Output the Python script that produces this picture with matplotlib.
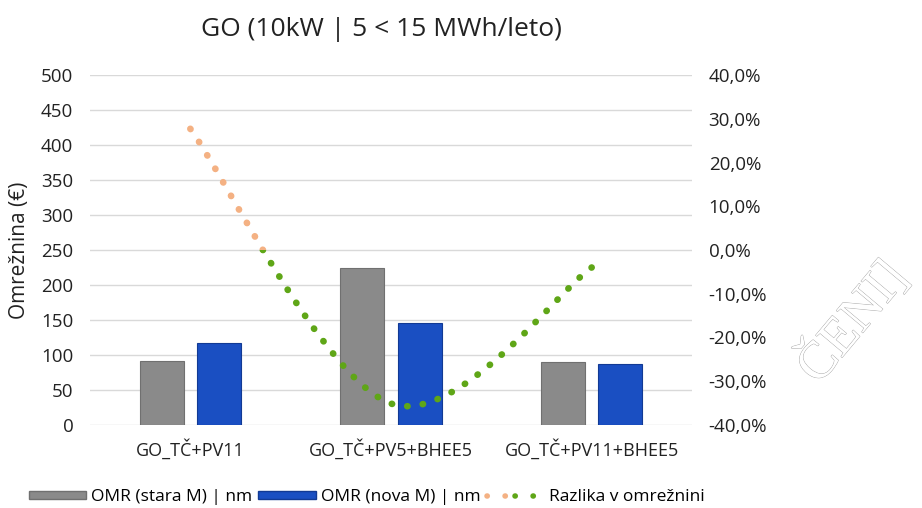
import matplotlib
matplotlib.use('Agg')
import matplotlib.pyplot as plt
import matplotlib.patheffects as pe
from matplotlib.path import Path
from matplotlib.patches import PathPatch, Rectangle, Patch
from matplotlib.lines import Line2D
from matplotlib.legend_handler import HandlerTuple
import numpy as np

plt.rcParams['font.family'] = ['Open Sans', 'DejaVu Sans']

# podatki
categories = ['GO_TČ+PV11', 'GO_TČ+PV5+BHEE5', 'GO_TČ+PV11+BHEE5']
omr_stara = [91.4, 223.8, 89.5]
omr_nova = [116.7, 145.2, 87.1]
razlika = [27.7, -35.1, -4.0]  # %

grey = '#8a8a8a'
blue = '#1a4fc2'
orange = '#f4b183'
green = '#5fa617'
dots = (0, (0.05, 2.3))

fig = plt.figure(figsize=(9.22, 5.08), dpi=100)
ax = fig.add_axes([90 / 922, 1 - 425 / 508, 602 / 922, 350 / 508])
ax2 = ax.twinx()

x = np.arange(len(categories))
w = 0.22
ax.bar(x - 0.143, omr_stara, w, color=grey, edgecolor='#707070', linewidth=0.8, zorder=2)
ax.bar(x + 0.143, omr_nova, w, color=blue, edgecolor='#123a94', linewidth=0.8, zorder=2)

ax.set_xlim(-0.5, 2.5)
ax.set_ylim(0, 500)
ax.set_yticks(range(0, 501, 50))
ax.set_xticks(x)
ax.set_xticklabels(categories, fontsize=13, color='#222222')
ax.tick_params(axis='y', labelsize=13.5, colors='#222222', length=0, pad=12)
ax.tick_params(axis='x', length=0, pad=10)
ax.grid(axis='y', color='#d9d9d9', linewidth=1, zorder=0)
ax.set_axisbelow(True)
ax.set_ylabel('Omrežnina (€)', fontsize=15, color='#222222', labelpad=8)
for s in ax.spines.values():
    s.set_visible(False)
for s in ax2.spines.values():
    s.set_visible(False)

ax2.set_ylim(-40, 40)
ax2.set_yticks(range(-40, 41, 10))
ax2.set_yticklabels(['{:.1f}%'.format(v).replace('.', ',') for v in range(-40, 41, 10)])
ax2.tick_params(axis='y', labelsize=13.5, colors='#222222', length=0, pad=12)

# zglajena crta (Excel smooth) - bezier iz tock
pts = np.column_stack([x, razlika]).astype(float)
ext = np.vstack([pts[0], pts, pts[-1]])
verts = [tuple(pts[0])]
codes = [Path.MOVETO]
for i in range(len(pts) - 1):
    p0, p1, p2, p3 = ext[i], ext[i + 1], ext[i + 2], ext[i + 3]
    c1 = p1 + (p2 - p0) / 6
    c2 = p2 - (p3 - p1) / 6
    verts += [tuple(c1), tuple(c2), tuple(p2)]
    codes += [Path.CURVE4] * 3
curve = Path(verts, codes)

for col, y0 in [(orange, 0), (green, -100)]:
    pp = PathPatch(curve, facecolor='none', edgecolor=col, linewidth=4.8,
                   linestyle=dots, capstyle='round', zorder=3)
    ax2.add_patch(pp)
    clip = Rectangle((-1, y0), 5, 100, transform=ax2.transData)
    pp.set_clip_path(clip)

fig.text(381 / 922, 1 - 30 / 508, 'GO (10kW | 5 < 15 MWh/leto)', ha='center', va='center',
         fontsize=19, color='#222222')

# legenda
h1 = Patch(facecolor=grey, edgecolor='#707070')
h2 = Patch(facecolor=blue, edgecolor='#123a94')
l_or = Line2D([0], [0], color=orange, linewidth=4, linestyle=(0, (0.05, 3.2)), dash_capstyle='round')
l_gr = Line2D([0], [0], color=green, linewidth=4, linestyle=(0, (0.05, 3.2)), dash_capstyle='round')
fig.legend([h1, h2, (l_or, l_gr)],
           ['OMR (stara M) | nm', 'OMR (nova M) | nm', 'Razlika v omrežnini'],
           handler_map={tuple: HandlerTuple(ndivide=None, pad=0)},
           loc='center left', bbox_to_anchor=(20 / 922, 1 - 497 / 508), ncol=3, frameon=False,
           fontsize=12.5, handlelength=3.3, handleheight=0.35, handletextpad=0.3,
           columnspacing=0.35, borderpad=0)

# zig
fig.text(852 / 922, 1 - 322 / 508, 'ČENI]', ha='center', va='center', rotation=50,
         fontsize=38, family='Liberation Serif', color='white',
         path_effects=[pe.withStroke(linewidth=0.6, foreground='#a0a0a0')])

fig.savefig('out.png', dpi=100)
